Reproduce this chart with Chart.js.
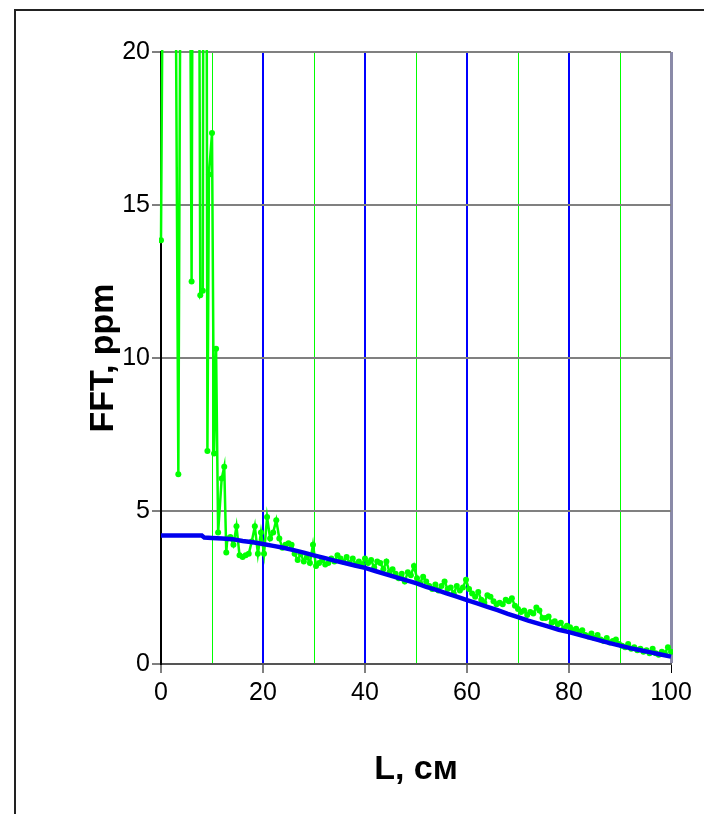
<!DOCTYPE html>
<html>
<head>
<meta charset="utf-8">
<script src="https://cdn.jsdelivr.net/npm/chart.js@4.4.0/dist/chart.umd.min.js"></script>
<style>
  html, body { margin: 0; padding: 0; background: #fff; }
  #frame { position: absolute; left: 14px; top: 9px; width: 720px; height: 830px; border: 2px solid #222; box-sizing: border-box; }
  #wrap { position: absolute; left: 0; top: 0; width: 704px; height: 814px; }
</style>
</head>
<body>
<div id="frame"></div>
<div id="wrap"><canvas id="myChart" width="704" height="814"></canvas></div>
<script>
// Ticks de los ejes
const xTicks = [0, 20, 40, 60, 80, 100];
const yTicks = [0, 5, 10, 15, 20];

// Serie verde (FFT medida): posiciones L y valores; los >20 quedan fuera del grafico
const fftL = [0, 1.7, 3.4, 4.7, 6.0, 6.8, 7.7, 8.2, 8.6, 9.1, 9.4, 10.0, 10.4, 10.8, 11.2, 11.9, 12.4, 12.8,
  13.0, 13.6, 14.2, 14.8, 15.4, 16.0, 16.6, 17.2, 17.8, 18.4, 19.0, 19.6, 20.2, 20.8, 21.4, 22.0, 22.6, 23.2, 23.8, 24.4,
  25.0, 25.6, 26.2, 26.8, 27.4, 28.0, 28.6, 29.2, 29.8, 30.4, 31.0, 31.6, 32.2, 32.8, 33.4, 34.0, 34.6, 35.2, 35.8, 36.4,
  37.0, 37.6, 38.2, 38.8, 39.4, 40.0, 40.6, 41.2, 41.8, 42.4, 43.0, 43.6, 44.2, 44.8, 45.4, 46.0, 46.6, 47.2, 47.8, 48.4,
  49.0, 49.6, 50.2, 50.8, 51.4, 52.0, 52.6, 53.2, 53.8, 54.4, 55.0, 55.6, 56.2, 56.8, 57.4, 58.0, 58.6, 59.2, 59.8, 60.4,
  61.0, 61.6, 62.2, 62.8, 63.4, 64.0, 64.6, 65.2, 65.8, 66.4, 67.0, 67.6, 68.2, 68.8, 69.4, 70.0, 70.6, 71.2, 71.8, 72.4,
  73.0, 73.6, 74.2, 74.8, 75.4, 76.0, 76.6, 77.2, 77.8, 78.4, 79.0, 79.6, 80.2, 80.8, 81.4, 82.0, 82.6, 83.2, 83.8, 84.4,
  85.0, 85.6, 86.2, 86.8, 87.4, 88.0, 88.6, 89.2, 89.8, 90.4, 91.0, 91.6, 92.2, 92.8, 93.4, 94.0, 94.6, 95.2, 95.8, 96.4,
  97.0, 97.6, 98.2, 98.8, 99.4, 100.0];
const fftPpm = [13.85, 60, 6.2, 60, 12.5, 60, 12.05, 12.2, 60, 6.96, 16.0, 17.35, 6.88, 10.3, 4.3, 6.06, 6.45, 3.64,
  4.1, 4.15, 3.9, 4.5, 3.55, 3.5, 3.55, 3.6, 4.0, 4.5, 3.6, 4.3, 3.6, 4.8, 4.1, 4.3, 4.7, 4.1, 3.8, 3.9,
  3.95, 3.9, 3.6, 3.4, 3.6, 3.35, 3.5, 3.3, 3.9, 3.2, 3.3, 3.4, 3.25, 3.3, 3.45, 3.35, 3.55, 3.45, 3.35, 3.5,
  3.3, 3.45, 3.25, 3.35, 3.25, 3.45, 3.3, 3.4, 3.15, 3.35, 3.3, 3.1, 3.35, 3.0, 3.1, 2.95, 2.8, 2.95, 2.7, 3.0,
  2.9, 3.2, 2.8, 2.65, 2.85, 2.7, 2.55, 2.45, 2.6, 2.4, 2.55, 2.7, 2.45, 2.5, 2.3, 2.55, 2.4, 2.5, 2.75, 2.45,
  2.3, 2.2, 2.35, 2.1, 2.0, 2.25, 2.2, 2.05, 1.95, 2.0, 1.95, 2.1, 2.05, 2.15, 1.9, 1.8, 1.7, 1.75, 1.6, 1.7,
  1.65, 1.85, 1.75, 1.5, 1.5, 1.55, 1.35, 1.4, 1.3, 1.35, 1.15, 1.25, 1.2, 1.1, 1.15, 1.05, 1.1, 0.95, 0.9, 1.0,
  0.85, 0.95, 0.8, 0.75, 0.85, 0.7, 0.75, 0.8, 0.65, 0.6, 0.55, 0.65, 0.5, 0.55, 0.45, 0.5, 0.4, 0.45, 0.35, 0.5,
  0.35, 0.3, 0.4, 0.35, 0.55, 0.4];

// Serie azul (modelo)
const modelL = [0, 2, 4, 6, 8, 8.5, 10, 12, 14, 16, 18, 20, 22, 24, 26, 28, 30, 32, 34, 36, 38, 40, 42, 44, 46, 48, 50,
  52, 54, 56, 58, 60, 62, 64, 66, 68, 70, 72, 74, 76, 78, 80, 82, 84, 86, 88, 90, 92, 94, 96, 98, 100];
const modelPpm = [4.2, 4.2, 4.2, 4.2, 4.2, 4.13, 4.12, 4.1, 4.08, 4.02, 3.98, 3.92, 3.86, 3.8, 3.72, 3.64, 3.55, 3.47, 3.38,
  3.3, 3.22, 3.14, 3.04, 2.94, 2.84, 2.74, 2.64, 2.52, 2.42, 2.31, 2.2, 2.09, 1.98, 1.87, 1.76, 1.64, 1.53, 1.42,
  1.32, 1.22, 1.12, 1.04, 0.95, 0.86, 0.77, 0.68, 0.6, 0.52, 0.45, 0.38, 0.31, 0.24];

function toPoints(xs, ys) {
  return xs.map((x, i) => ({ x: x, y: ys[i] }));
}

const FONT = "'Liberation Sans', Arial, sans-serif";

const ctx = document.getElementById("myChart").getContext("2d");
const myChart = new Chart(ctx, {
  type: "line",
  data: {
    datasets: [
      {
        label: "model",
        data: toPoints(modelL, modelPpm),
        borderColor: "#0000ee",
        borderWidth: 4.5,
        pointRadius: 0,
        clip: 2,
      },
      {
        label: "FFT",
        data: toPoints(fftL, fftPpm),
        borderColor: "#00ff00",
        backgroundColor: "#00ff00",
        borderWidth: 2.5,
        pointRadius: 3,
        pointBorderWidth: 0,
        clip: 2,
      },
    ],
  },
  options: {
    responsive: false,
    animation: false,
    layout: { padding: { left: 79, top: 52, right: 33, bottom: 20 } },
    plugins: { legend: { display: false }, tooltip: { enabled: false } },
    scales: {
      x: {
        type: "linear",
        min: 0,
        max: 100,
        afterFit: (s) => { s.height = 130; },
        afterBuildTicks: (s) => { s.ticks = [0,10,20,30,40,50,60,70,80,90,100].map((v) => ({ value: v })); },
        ticks: {
          color: "#000",
          font: { family: FONT, size: 25 },
          padding: 5,
          maxRotation: 0,
          callback: (v) => (xTicks.includes(v) ? String(v) : ""),
        },
        grid: {
          drawOnChartArea: true,
          tickLength: 9,
          color: (c) => {
            const v = c.tick ? c.tick.value : 0;
            if (v === 0) return "#000";
            if (v === 100) return "#8a8aa8";
            return v % 20 === 0 ? "#0000ff" : "#00ff00";
          },
          lineWidth: (c) => {
            const v = c.tick ? c.tick.value : 0;
            if (v === 100) return 3;
            return v % 20 === 0 ? 2 : 1;
          },
          tickColor: (c) => {
            const v = c.tick ? c.tick.value : 0;
            return v % 20 === 0 ? "#000" : "rgba(0,0,0,0)";
          },
          tickWidth: 1,
        },
        border: { display: true, color: "#555", width: 2 },
        title: {
          display: true,
          text: "L, см",
          color: "#000",
          font: { family: FONT, size: 34, weight: "bold" },
        },
      },
      y: {
        min: 0,
        max: 20,
        afterFit: (s) => { s.width = 161 - 79; },
        afterBuildTicks: (s) => { s.ticks = yTicks.map((v) => ({ value: v })); },
        ticks: {
          color: "#000",
          font: { family: FONT, size: 25 },
          padding: 2,
        },
        grid: {
          tickLength: 9,
          color: (c) => (c.tick && c.tick.value === 0 ? "#000" : "#808080"),
          lineWidth: 2,
          tickColor: "#000",
          tickWidth: 1,
        },
        border: { display: true, color: "#000", width: 2 },
        title: {
          display: true,
          text: "FFT, ppm",
          color: "#000",
          font: { family: FONT, size: 34, weight: "bold" },
        },
      },
    },
  },
});
</script>
</body>
</html>
